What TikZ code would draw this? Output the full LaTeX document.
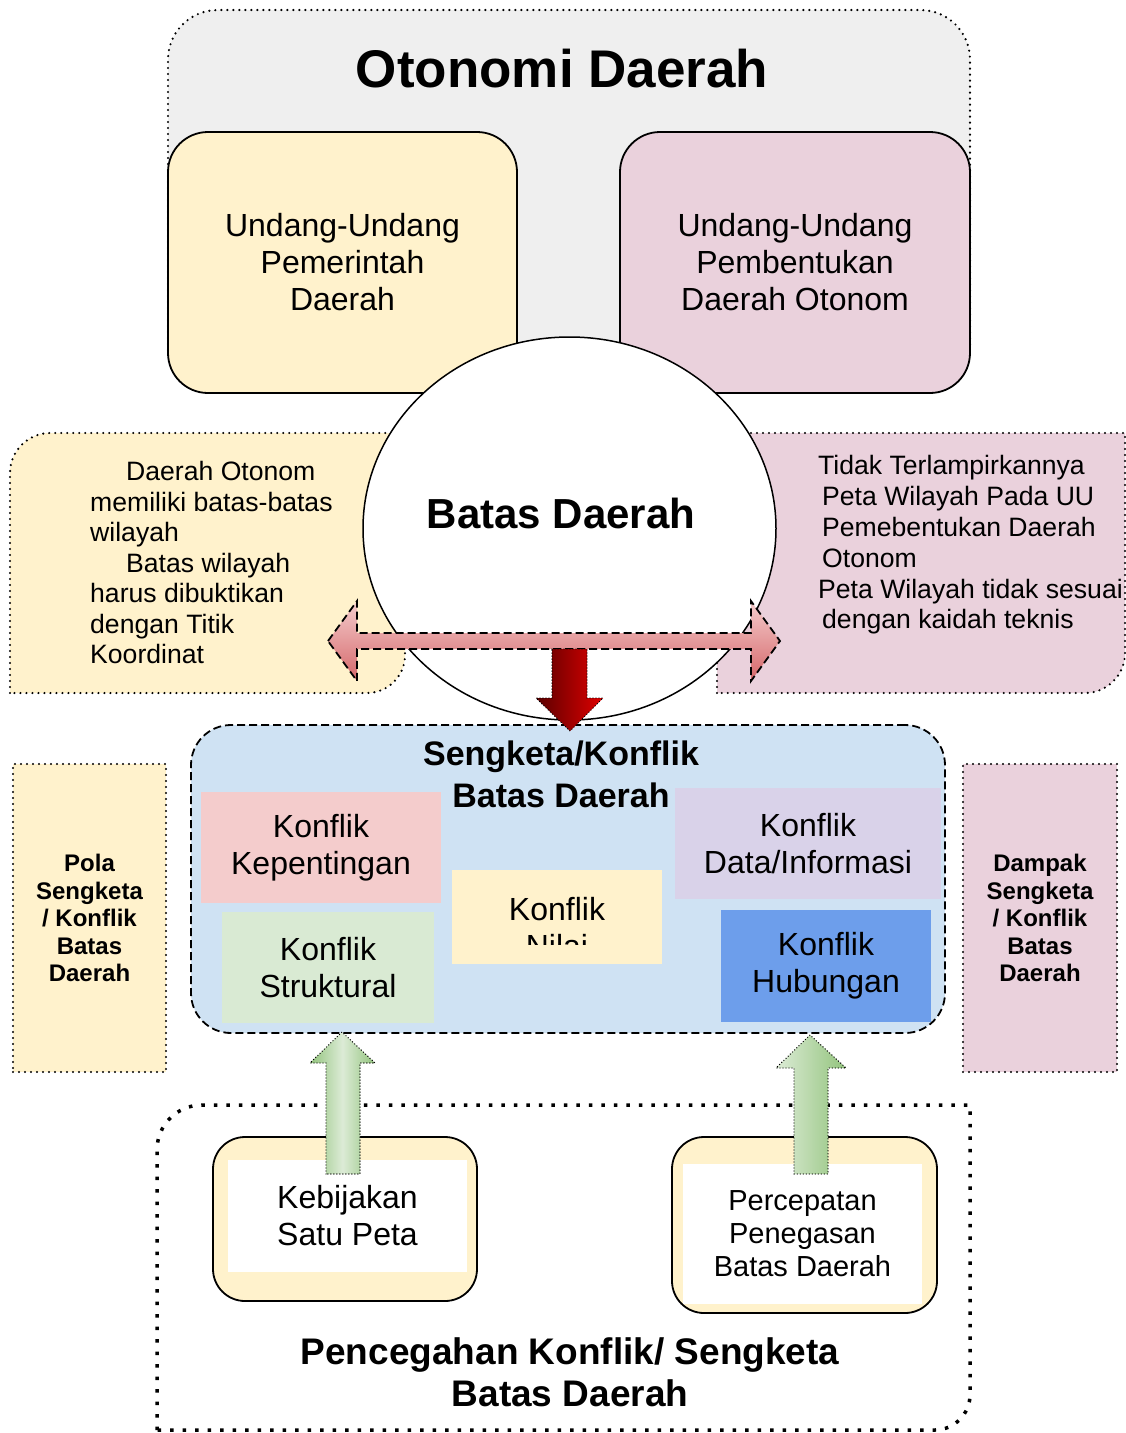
\documentclass[tikz,border=0pt]{standalone}
\usepackage{fontspec}
\setmainfont{Liberation Sans}
\usetikzlibrary{shapes.geometric}

\newcommand{\setfs}[2]{\fontsize{#1}{#2}\selectfont}

\definecolor{otgray}{HTML}{EFEFEF}
\definecolor{uuyellow}{HTML}{FFF2CC}
\definecolor{uupink}{HTML}{EAD1DC}
\definecolor{skblue}{HTML}{CFE2F3}
\definecolor{kmerah}{HTML}{F4CCCC}
\definecolor{khijau}{HTML}{D9EAD3}
\definecolor{kungu}{HTML}{D9D2E9}
\definecolor{kbiru}{HTML}{6D9EEB}
\definecolor{pinktop}{HTML}{F4CCCC}
\definecolor{pinkbot}{HTML}{D5676A}
\definecolor{redlight}{HTML}{E00000}
\definecolor{reddark}{HTML}{5A0000}
\definecolor{greendark}{HTML}{93C47D}
\definecolor{greenlight}{HTML}{DCEBD6}

\begin{document}
\begin{tikzpicture}[x=1pt, y=-1pt,
    every node/.style={inner sep=0pt},
    softbox/.style={draw=black, line width=1.8pt, rounded corners=40pt},
    dotline/.style={line width=2.4pt, dash pattern=on 0pt off 6pt, line cap=round},
    finedots/.style={line width=1.4pt, dash pattern=on 0pt off 3pt, line cap=round},
    bigdots/.style={line width=3.5pt, dash pattern=on 3.5pt off 9pt},
    dashline/.style={line width=1.8pt, dash pattern=on 8pt off 4pt},
    kbox/.style={font=\setfs{32}{37}, align=center},
    judul/.style={font=\bfseries\setfs{37}{42}, align=center}]
  \useasboundingbox (0,0) rectangle (1126,1433);

  % Otonomi Daerah
  \fill[otgray] (168,350) -- (168,60) .. controls (168,32) and (190,10) .. (218,10)
    -- (920,10) .. controls (948,10) and (970,32) .. (970,60) -- (970,350) -- cycle;
  \draw[dotline] (168,350) -- (168,60) .. controls (168,32) and (190,10) .. (218,10)
    -- (920,10) .. controls (948,10) and (970,32) .. (970,60) -- (970,350);
  \node[font=\bfseries\setfs{53}{60}] (otda) at (562,69) {Otonomi Daerah};
  \node[softbox, fill=uuyellow, minimum width=349pt, minimum height=261pt, kbox] (uupd)
    at (342.5,262.5) {Undang-Undang\\Pemerintah\\Daerah};
  \node[softbox, fill=uupink, minimum width=350pt, minimum height=261pt, kbox] (uupdo)
    at (795,262.5) {Undang-Undang\\Pembentukan\\Daerah Otonom};

  % keterangan kiri dan kanan
  \draw[dotline, fill=uuyellow] (10,693) -- (10,473) .. controls (10,451) and (28,433) .. (50,433)
    -- (405,433) -- (405,655) .. controls (405,676) and (388,693) .. (367,693) -- cycle;
  \draw[dotline, fill=uupink] (717,693) -- (717,433) -- (1125,433)
    -- (1125,653) .. controls (1125,675) and (1107,693) .. (1085,693) -- cycle;
  \node[anchor=west, align=left, font=\setfs{26.6}{30.5}] (kiritxt) at (90,562.5)
    {\hspace*{36pt}Daerah Otonom\\memiliki batas-batas\\wilayah\\\hspace*{36pt}Batas wilayah\\harus dibuktikan\\dengan Titik\\Koordinat};
  \node[anchor=west, align=left, font=\setfs{26.6}{30.8}] (kanantxt) at (818,545)
    {Tidak Terlampirkannya\\\hspace*{4pt}Peta Wilayah Pada UU\\\hspace*{4pt}Pemebentukan Daerah\\\hspace*{4pt}Otonom\\Peta Wilayah tidak sesuai\\\hspace*{4pt}dengan kaidah teknis};

  % Batas Daerah
  \node[ellipse, draw=black, line width=1.5pt, fill=white, minimum width=413pt, minimum height=383pt] (batas)
    at (569.5,528.5) {};
  \node[font=\bfseries\setfs{42}{48}] (batastxt) at (561,513) {Batas Daerah};
  \draw[dashline, top color=pinktop, bottom color=pinkbot]
    (328,641) -- (357,601) -- (357,633) -- (751,633) -- (751,601) -- (780,641)
    -- (751,681) -- (751,649) -- (357,649) -- (357,681) -- cycle;

  % Sengketa/Konflik
  \node[draw=black, dashline, fill=skblue, rounded corners=40pt, minimum width=754pt, minimum height=308pt] (sengketa)
    at (568,879) {};
  \node[font=\bfseries\setfs{34}{42}, align=center] (sengketatxt) at (561,774) {Sengketa/Konflik\\Batas Daerah};
  \node[kbox, fill=kmerah, minimum width=240pt, minimum height=111pt] (kepentingan) at (321,847.5) {Konflik\\Kepentingan};
  \node[kbox, fill=khijau, minimum width=212pt, minimum height=111pt] (struktural) at (328,967.5) {Konflik\\Struktural};
  \node[kbox, fill=kungu, minimum width=266pt, minimum height=111pt] (datainfo) at (808,843.5) {Konflik\\Data/Informasi};
  \node[kbox, fill=kbiru, minimum width=210pt, minimum height=112pt] (hubungan) at (826,966) {Konflik\\Hubungan};
  \node[fill=uuyellow, minimum width=210pt, minimum height=94pt] (nilai) at (557,917) {};
  \begin{scope}
    \clip (452,870) rectangle (662,944);
    \node[kbox] (nilaitxt) at (557,927.5) {Konflik\\Nilai};
  \end{scope}
  \draw[finedots, left color=reddark, right color=redlight]
    (552,649) -- (587,649) -- (587,698) -- (603,698) -- (570,731) -- (536,698) -- (552,698) -- cycle;

  % pola dan dampak
  \node[draw=black, dotline, fill=uuyellow, minimum width=153pt, minimum height=308pt,
    font=\bfseries\setfs{24}{27.5}, align=center] (pola) at (89.5,918) {Pola\\Sengketa\\/ Konflik\\Batas\\Daerah};
  \node[draw=black, dotline, fill=uupink, minimum width=154pt, minimum height=308pt,
    font=\bfseries\setfs{24}{27.5}, align=center] (dampak) at (1040,918) {Dampak\\Sengketa\\/ Konflik\\Batas\\Daerah};

  % Pencegahan
  \draw[bigdots] (157,1430) -- (157,1150) .. controls (157,1125) and (177,1105) .. (202,1105)
    -- (970,1105) -- (970,1395) .. controls (970,1414) and (954,1430) .. (935,1430) -- cycle;
  \node[judul] (cegah) at (570,1372) {Pencegahan Konflik/ Sengketa\\Batas Daerah};
  \node[softbox, rounded corners=32pt, fill=uuyellow, minimum width=264pt, minimum height=164pt] (ksp) at (345,1219) {};
  \node[fill=white, minimum width=239pt, minimum height=112pt, kbox] (ksptxt) at (347.5,1216) {Kebijakan\\Satu Peta};
  \node[softbox, rounded corners=32pt, fill=uuyellow, minimum width=265pt, minimum height=176pt] (ppbd) at (804.5,1225) {};
  \node[fill=white, minimum width=239pt, minimum height=140pt, font=\setfs{29}{33}, align=center] (ppbdtxt)
    at (802.5,1234) {Percepatan\\Penegasan\\Batas Daerah};
  \draw[finedots, left color=greendark, right color=greendark, middle color=greenlight]
    (326,1174) -- (326,1063) -- (310,1063) -- (342,1032) -- (375,1063) -- (360,1063) -- (360,1174) -- cycle;
  \draw[finedots, left color=greenlight, right color=greendark]
    (794,1174) -- (794,1068) -- (776,1068) -- (810,1035) -- (846,1068) -- (828,1068) -- (828,1174) -- cycle;
\end{tikzpicture}
\end{document}
